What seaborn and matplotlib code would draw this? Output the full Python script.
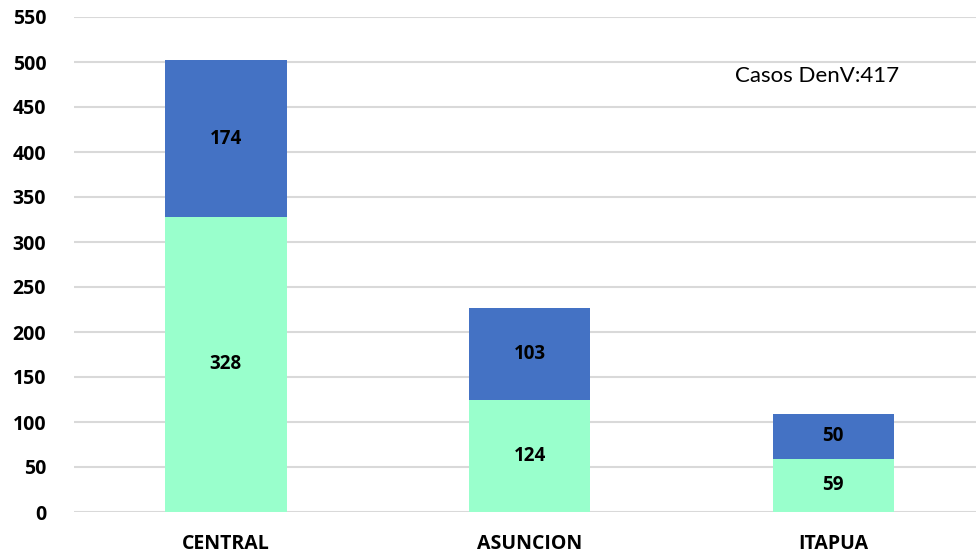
import matplotlib
matplotlib.use("Agg")
import matplotlib.pyplot as plt
import seaborn as sns
import pandas as pd

regions = ["CENTRAL", "ASUNCION", "ITAPUA"]
lower_vals = [328, 124, 59]
upper_vals = [174, 103, 50]
annotation = "Casos DenV:417"

df = pd.DataFrame({"region": regions, "lower": lower_vals, "upper": upper_vals})
df["total"] = df["lower"] + df["upper"]

sns.set_theme(style="white")
plt.rcParams["font.family"] = ["Open Sans", "DejaVu Sans"]
plt.rcParams["text.color"] = "black"
plt.rcParams["xtick.color"] = "black"
plt.rcParams["ytick.color"] = "black"

fig = plt.figure(figsize=(9.76, 5.55), dpi=100)
ax = fig.add_axes([74 / 976, 1 - 512 / 555, 1 - 74 / 976, (512 - 17) / 555])

# stacked: total in blue underneath, lower segment in green on top
sns.barplot(data=df, x="region", y="total", color="#4472C4", width=0.4,
            saturation=1, linewidth=0, ax=ax, zorder=2)
sns.barplot(data=df, x="region", y="lower", color="#99FFCC", width=0.4,
            saturation=1, linewidth=0, ax=ax, zorder=3)

for i, row in df.iterrows():
    ax.text(i, row["lower"] / 2, str(row["lower"]), ha="center", va="center",
            fontsize=13.5, fontweight="bold", color="black", zorder=4)
    ax.text(i, row["lower"] + row["upper"] / 2, str(row["upper"]), ha="center",
            va="center", fontsize=13.5, fontweight="bold", color="black", zorder=4)

ax.text(1.677, 485, annotation, ha="left", va="center", fontsize=16,
        color="black", family=["Lato", "DejaVu Sans"])

ax.set_ylim(0, 550)
ax.set_xlim(-0.5, 2.47)
ax.set_yticks(range(0, 551, 50))
ax.yaxis.grid(True, color="#D9D9D9", linewidth=1.5, zorder=0)
ax.set_axisbelow(True)
ax.set_xlabel("")
ax.set_ylabel("")
for s in ax.spines.values():
    s.set_visible(False)
ax.tick_params(axis="both", length=0, labelsize=14)
ax.tick_params(axis="y", pad=20)
ax.tick_params(axis="x", pad=16)
for lbl in ax.get_xticklabels() + ax.get_yticklabels():
    lbl.set_fontweight("bold")

fig.savefig("out.png", dpi=100)
